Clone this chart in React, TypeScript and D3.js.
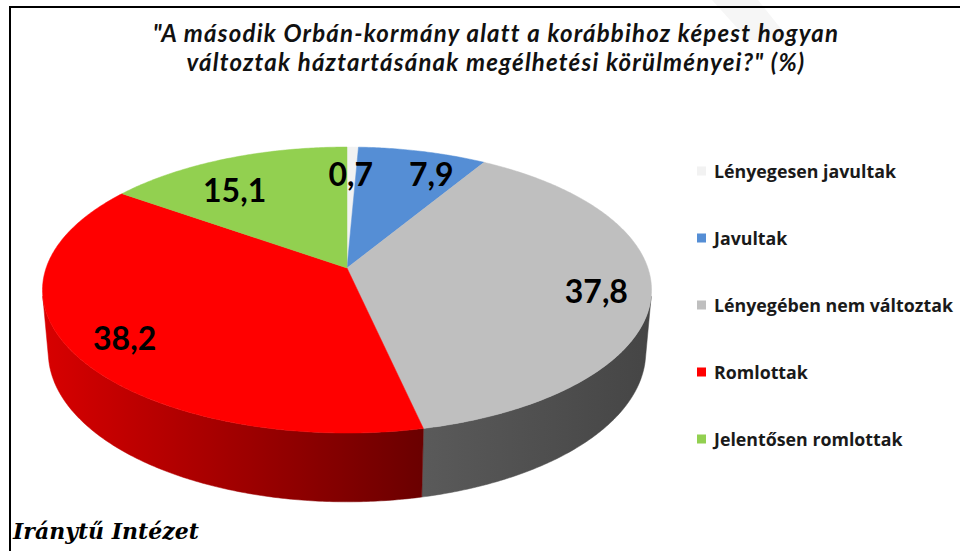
import React from 'react';
import * as d3 from 'd3';

// ---- data ----
const categories = [
  'Lényegesen javultak',
  'Javultak',
  'Lényegében nem változtak',
  'Romlottak',
  'Jelentősen romlottak',
];
const values = [0.7, 7.9, 37.8, 38.2, 15.1];
const valueLabels = ['0,7', '7,9', '37,8', '38,2', '15,1'];
const titleLines = [
  '"A második Orbán-kormány alatt a korábbihoz képest hogyan',
  'változtak háztartásának megélhetési körülményei?" (%)',
];
const sourceText = 'Iránytű Intézet';

// ---- style ----
const topColors = ['#F2F2F2', '#558ED5', '#BFBFBF', '#FF0000', '#92D050'];
const sideFrom = ['#D9D9D9', '#2F5F9F', '#5A5A5A', '#D80000', '#5E8F2A'];
const sideTo = ['#A0A0A0', '#1F3F6F', '#454545', '#6A0000', '#3F6A1A'];
const labelNudge: [number, number][] = [
  [-1, 6],
  [22, 3],
  [7, 6],
  [-7, 5],
  [-13, 12],
];

const W = 960;
const H = 551;

// perspective model of the 3D pie
const CX = 347;
const CY = 268;
const FOC = 1730;
const DIST = 5.75;
const SA = 0.464;
const CA = Math.sqrt(1 - SA * SA);
const THICK = 0.235;

function project(r: number, theta: number, y = 0): [number, number] {
  const X = r * Math.sin(theta);
  const Z = -r * Math.cos(theta);
  const xc = X;
  const yc = y * CA - Z * SA;
  const depth = DIST - y * SA - Z * CA;
  return [CX + (FOC * xc) / depth, CY - (FOC * yc) / depth];
}

function arcPoints(a: number, b: number, y = 0): [number, number][] {
  const n = Math.max(2, Math.ceil(Math.abs(b - a) / 0.01));
  const pts: [number, number][] = [];
  for (let i = 0; i <= n; i++) {
    const t = a + ((b - a) * i) / n;
    pts.push(project(1, t, y));
  }
  return pts;
}

export default function App() {
  const arcs = d3.pie<number>().sort(null).value((d) => d)(values);
  const line = d3.line<[number, number]>().x((d) => d[0]).y((d) => d[1]);
  const visA = Math.acos(-1 / (DIST * CA));
  const visB = 2 * Math.PI - visA;

  const legendY = d3
    .scalePoint<string>()
    .domain(categories)
    .range([171, 439]);

  return (
    <div style={{ position: 'fixed', left: 0, top: 0 }}>
      <svg width={W} height={H} style={{ display: 'block', background: '#fff' }}>
        <defs>
          {arcs.map((a, i) => {
            const s = Math.max(a.startAngle, visA);
            const e = Math.min(a.endAngle, visB);
            const p0 = project(1, s);
            const p1 = project(1, e);
            return (
              <linearGradient
                key={i}
                id={`side${i}`}
                gradientUnits="userSpaceOnUse"
                x1={Math.min(p0[0], p1[0])}
                x2={Math.max(p0[0], p1[0])}
                y1={0}
                y2={0}
              >
                <stop offset="0%" stopColor={sideFrom[i]} />
                <stop offset="100%" stopColor={sideTo[i]} />
              </linearGradient>
            );
          })}
        </defs>

        {/* watermark */}
        <polygon points="712,0 758,0 790,40 748,40" fill="#F6F6F6" />

        {/* frame */}
        <line x1={10} y1={7} x2={W} y2={7} stroke="#000" strokeWidth={2} />
        <line x1={10} y1={6} x2={10} y2={H} stroke="#000" strokeWidth={2} />

        {/* title */}
        <g
          fontFamily="Lato, 'Open Sans', sans-serif"
          fontWeight="bold"
          fontStyle="italic"
          fontSize={24}
          letterSpacing={1.2}
          fill="#111"
          textAnchor="middle"
        >
          {titleLines.map((t, i) => (
            <text key={i} x={496} y={42 + i * 29}>
              {t}
            </text>
          ))}
        </g>

        {/* sides */}
        {arcs.map((a, i) => {
          const s = Math.max(a.startAngle, visA);
          const e = Math.min(a.endAngle, visB);
          if (e <= s) return null;
          const top = arcPoints(s, e, 0);
          const bot = arcPoints(e, s, -THICK);
          return (
            <path
              key={`s${i}`}
              d={(line([...top, ...bot]) || '') + 'Z'}
              fill={`url(#side${i})`}
              stroke={`url(#side${i})`}
              strokeWidth={0.5}
            />
          );
        })}

        {/* tops */}
        {arcs.map((a, i) => {
          const pts: [number, number][] = [project(0, 0), ...arcPoints(a.startAngle, a.endAngle)];
          return (
            <path
              key={`t${i}`}
              d={(line(pts) || '') + 'Z'}
              fill={topColors[i]}
              stroke={topColors[i]}
              strokeWidth={0.5}
            />
          );
        })}

        {/* value labels */}
        <g fontFamily="Lato, 'Open Sans', sans-serif" fontWeight="bold" fontSize={32} fill="#000" textAnchor="middle">
          {arcs.map((a, i) => {
            const mid = (a.startAngle + a.endAngle) / 2;
            const [x, y] = project(0.8, mid);
            return (
              <text key={`l${i}`} x={x + labelNudge[i][0]} y={y + labelNudge[i][1] + 11}>
                {valueLabels[i]}
              </text>
            );
          })}
        </g>

        {/* legend */}
        <g fontFamily="'Open Sans', Lato, sans-serif" fontWeight="bold" fontSize={17.8} fill="#1A1A1A">
          {categories.map((c, i) => {
            const y = legendY(c) as number;
            return (
              <g key={c}>
                <rect x={697} y={y - 4.5} width={9} height={9} fill={topColors[i]} />
                <text x={714} y={y + 6.5}>
                  {c}
                </text>
              </g>
            );
          })}
        </g>

        {/* source */}
        <text
          x={13}
          y={539}
          fontFamily="'DejaVu Serif', serif"
          fontWeight="bold"
          fontStyle="italic"
          fontSize={22}
          fill="#000"
        >
          {sourceText}
        </text>
      </svg>
    </div>
  );
}
